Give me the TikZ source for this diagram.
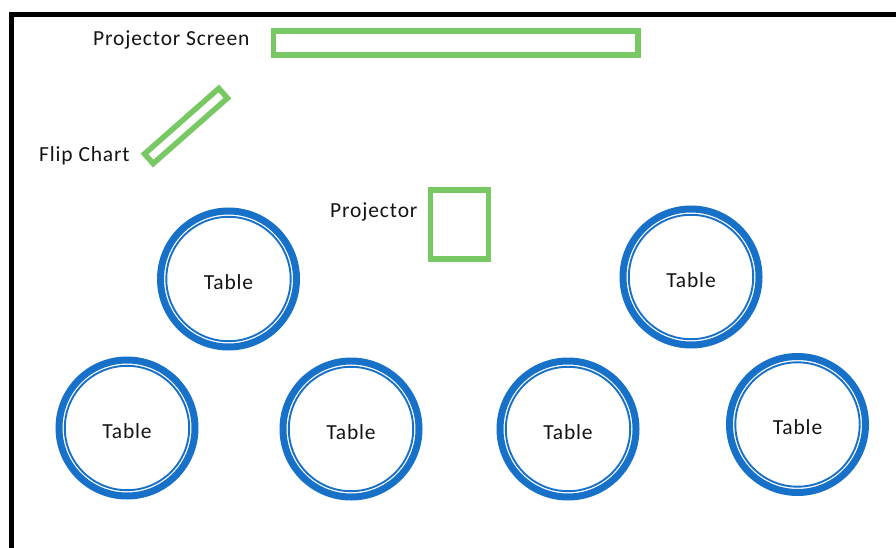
\documentclass[tikz,border=0pt]{standalone}
\usepackage{fontspec}
\setmainfont[LetterSpace=4.0]{Carlito}
\definecolor{ringblue}{RGB}{24,113,200}
\definecolor{boxgreen}{RGB}{120,200,100}
\definecolor{inkdark}{RGB}{20,20,20}
\begin{document}
\begin{tikzpicture}[x=1pt,y=-1pt,
  lbl/.style={inner sep=0pt, text=inkdark, font=\fontsize{21.5}{26}\selectfont},
  greenbox/.style={draw=boxgreen, line width=5.5pt, inner sep=0pt},
  tablering/.style={circle, draw=ringblue, line width=7pt, minimum size=136pt,
    inner sep=0pt, text=inkdark, font=\fontsize{21.5}{26}\selectfont,
    text height=20.6pt, text depth=0pt},
  innerring/.style={draw=ringblue, line width=1.9pt}]
  \useasboundingbox (0,0) rectangle (896,548);
  \clip (0,0) rectangle (896,548);
  % room walls
  \coordinate (wallbottom) at (11,560);
  \coordinate (wallcorner) at (11,15);
  \coordinate (wallright) at (910,15);
  \draw[line width=5pt] (wallbottom) -- (wallcorner) -- (wallright);

  % front of the room
  \node[greenbox, minimum width=364.5pt, minimum height=24.4pt] (screen) at (455.75,43) {};
  \node[lbl, anchor=base west] (screenlbl) at (93,46) {Projector Screen};
  \node[greenbox, minimum width=99pt, minimum height=13pt, rotate=41.4] (flip) at (186,126) {};
  \node[lbl, anchor=base west] (fliplbl) at (39,161.5) {Flip Chart};
  \node[greenbox, minimum width=58pt, minimum height=69pt] (projector) at (459.3,224.3) {};
  \node[lbl, anchor=base west] (projlbl) at (330,217.7) {Projector};

  % tables
  \node[tablering] (t1) at (228.5,279) {Table};
  \node[tablering] (t2) at (691,277) {Table};
  \node[tablering] (t3) at (127,428) {Table};
  \node[tablering] (t4) at (351,429) {Table};
  \node[tablering] (t5) at (568,429) {Table};
  \node[tablering] (t6) at (797.5,424.5) {Table};
  \foreach \t in {t1,t2,t3,t4,t5,t6}
    \draw[innerring] (\t.center) circle[radius=62.2];
\end{tikzpicture}
\end{document}
